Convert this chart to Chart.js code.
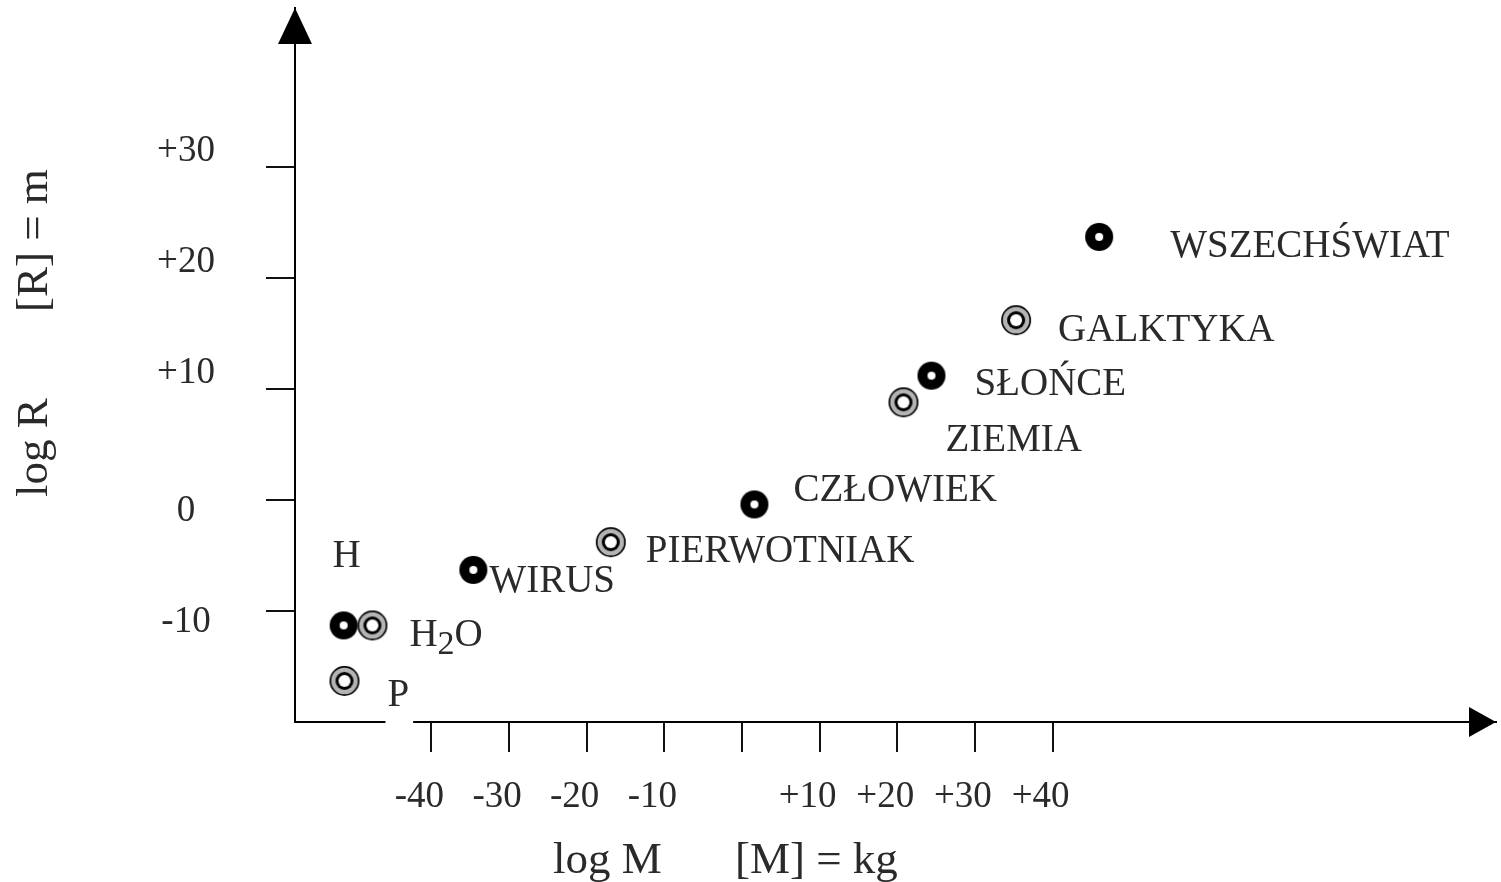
<!DOCTYPE html>
<html lang="pl">
<head>
<meta charset="UTF-8">
<title>log R – log M</title>
<script src="https://cdn.jsdelivr.net/npm/chart.js"></script>
<style>
  html, body { margin: 0; padding: 0; background: #fff; }
  #wrap { width: 1501px; height: 882px; }
</style>
</head>
<body>
<div id="wrap"><canvas id="chart"></canvas></div>
<script>
  // values: log10 of mass [kg] and radius [m]
  const solidNames = ['H', 'WIRUS', 'CZŁOWIEK', 'SŁOŃCE', 'WSZECHŚWIAT'];
  const solidLogM  = [-51.3, -34.6, 1.6, 24.4, 46.0];
  const solidLogR  = [-11.3, -6.3, -0.4, 11.2, 23.7];

  const ringNames = ['H2O', 'P', 'PIERWOTNIAK', 'ZIEMIA', 'GALKTYKA'];
  const ringLogM  = [-47.6, -51.2, -16.9, 20.8, 35.3];
  const ringLogR  = [-11.3, -16.3, -3.8, 8.8, 16.2];

  const xTicks = [-40, -30, -20, -10, 0, 10, 20, 30, 40];
  const yTicks = [-10, 0, 10, 20, 30];

  const SERIF = "'Liberation Serif', 'DejaVu Serif', serif";
  const INK = '#2a2a2a';

  // where each name sits relative to its marker
  const labelShift = {
    'H': [3, -69, 'center'],
    'H2O': [37, 10, 'left'],
    'P': [43, 15, 'left'],
    'WIRUS': [16, 12, 'left'],
    'PIERWOTNIAK': [35, 10, 'left'],
    'CZŁOWIEK': [39, -14, 'left'],
    'ZIEMIA': [42, 38, 'left'],
    'SŁOŃCE': [43, 9, 'left'],
    'GALKTYKA': [42, 11, 'left'],
    'WSZECHŚWIAT': [71, 10, 'left']
  };

  function makeMarker(ring) {
    const c = document.createElement('canvas');
    c.width = 32; c.height = 32;
    const g = c.getContext('2d');
    const disc = (r, col) => { g.beginPath(); g.arc(16, 16, r, 0, Math.PI * 2); g.fillStyle = col; g.fill(); };
    if (ring) {
      disc(15, '#000');
      disc(13.3, '#b4b4b4');
      disc(9, '#000');
      disc(6, '#fff');
    } else {
      disc(14, '#000');
      disc(4, '#fff');
    }
    return c;
  }

  const toPts = (xs, ys) => xs.map((v, i) => ({ x: v, y: ys[i] }));

  const decor = {
    id: 'decor',
    afterDraw(chart) {
      const { ctx, chartArea: a, scales: { x, y } } = chart;
      ctx.save();
      ctx.fillStyle = '#000';
      // arrow heads
      ctx.beginPath();
      ctx.moveTo(a.left, a.top);
      ctx.lineTo(a.left - 17, a.top + 36);
      ctx.lineTo(a.left + 17, a.top + 36);
      ctx.closePath(); ctx.fill();
      ctx.beginPath();
      ctx.moveTo(a.right, a.bottom);
      ctx.lineTo(a.right - 27, a.bottom - 15);
      ctx.lineTo(a.right - 27, a.bottom + 15);
      ctx.closePath(); ctx.fill();

      ctx.fillStyle = INK;
      ctx.textBaseline = 'middle';

      // y tick labels
      ctx.font = '37px ' + SERIF;
      ctx.textAlign = 'center';
      yTicks.forEach(v => {
        const label = v > 0 ? '+' + v : String(v);
        ctx.fillText(label, a.left - 109, y.getPixelForValue(v) + (v > 0 ? -16 : 11));
      });

      // point names
      const nameFont = '39px ' + SERIF;
      ctx.font = nameFont;
      chart.data.datasets.forEach((ds, di) => {
        chart.getDatasetMeta(di).data.forEach((pt, j) => {
          const name = ds.names[j];
          const [dx, dy, align] = labelShift[name];
          const px = pt.x + dx, py = pt.y + dy;
          ctx.textAlign = align;
          if (name === 'H2O') {
            ctx.fillText('H', px, py);
            let w = ctx.measureText('H').width;
            ctx.font = '34px ' + SERIF;
            ctx.fillText('2', px + w, py + 10);
            w += ctx.measureText('2').width;
            ctx.font = nameFont;
            ctx.fillText('O', px + w, py);
          } else {
            if (name === 'P') {
              // the axis is broken under this letter
              const w = ctx.measureText(name).width;
              ctx.fillStyle = '#fff';
              ctx.fillRect(px - 2, a.bottom - 3, w + 6, 6);
              ctx.fillStyle = INK;
            }
            ctx.fillText(name, px, py);
          }
        });
      });

      // axis titles
      ctx.font = '45px ' + SERIF;
      ctx.textAlign = 'left';
      ctx.textBaseline = 'alphabetic';
      ctx.fillText('log M', a.left + 258, a.bottom + 151);
      ctx.fillText('[M] = kg', a.left + 440, a.bottom + 151);
      ctx.save();
      ctx.translate(a.left - 248, a.bottom - 225);
      ctx.rotate(-Math.PI / 2);
      ctx.fillText('log R', 0, 0);
      ctx.fillText('[R] = m', 185, 0);
      ctx.restore();

      ctx.restore();
    }
  };

  new Chart(document.getElementById('chart'), {
    type: 'scatter',
    data: {
      datasets: [
        { names: solidNames, data: toPts(solidLogM, solidLogR), pointStyle: makeMarker(false) },
        { names: ringNames, data: toPts(ringLogM, ringLogR), pointStyle: makeMarker(true) }
      ]
    },
    options: {
      responsive: true,
      maintainAspectRatio: false,
      animation: false,
      clip: false,
      layout: { padding: { left: 0, right: 1, top: 8, bottom: 0 } },
      plugins: { legend: { display: false }, tooltip: { enabled: false } },
      scales: {
        x: {
          type: 'linear',
          min: -57.57, max: 97.11,
          afterBuildTicks: s => { s.ticks = xTicks.map(v => ({ value: v })); },
          afterFit: s => { s.height = 160; },
          border: { display: true, color: '#000', width: 2 },
          grid: { drawOnChartArea: false, drawTicks: true, tickLength: 30, color: '#111', lineWidth: 2 },
          ticks: {
            autoSkip: false, maxRotation: 0, labelOffset: -12, padding: 23,
            color: INK, font: { family: SERIF, size: 37 },
            callback: v => v === 0 ? '' : (v > 0 ? '+' + v : String(v))
          }
        },
        y: {
          type: 'linear',
          min: -20, max: 44.32,
          afterBuildTicks: s => { s.ticks = yTicks.map(v => ({ value: v })); },
          afterFit: s => { s.width = 295; },
          border: { display: true, color: '#000', width: 2 },
          grid: { drawOnChartArea: false, drawTicks: true, tickLength: 29, color: '#111', lineWidth: 2 },
          ticks: { display: false }
        }
      }
    },
    plugins: [decor]
  });
</script>
</body>
</html>
